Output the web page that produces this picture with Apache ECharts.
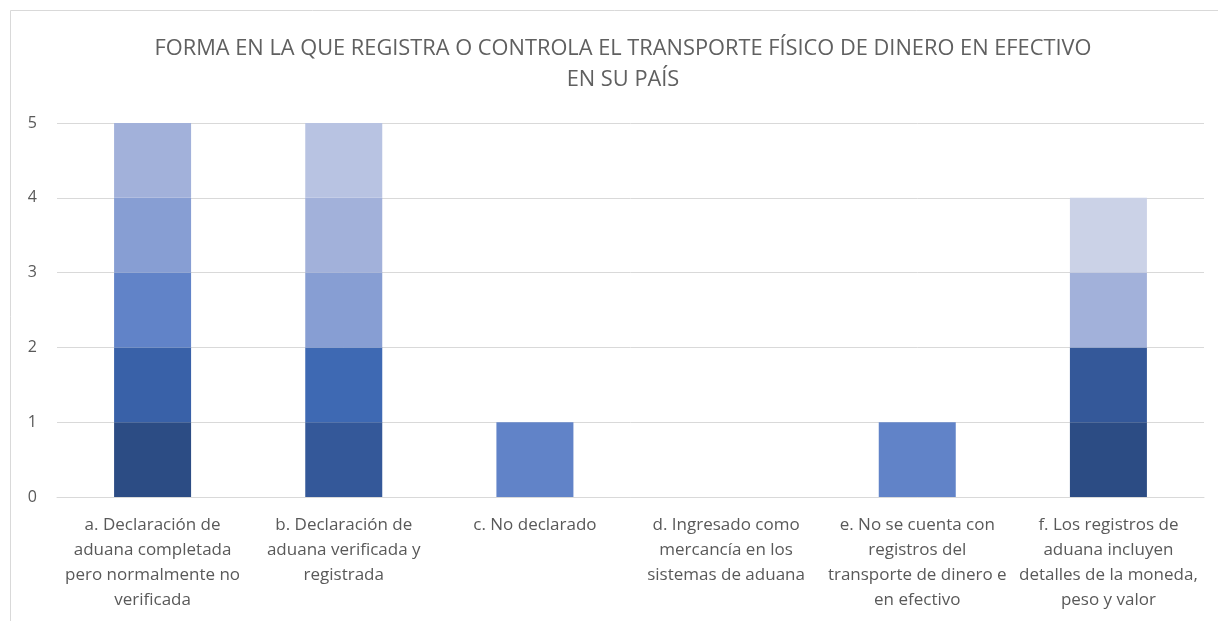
<!DOCTYPE html>
<html>
<head>
<meta charset="utf-8">
<script src="https://cdn.jsdelivr.net/npm/echarts@6/dist/echarts.min.js"></script>
<style>
    html, body { margin: 0; padding: 0; background: #fff; }
    #chart { width: 1218px; height: 621px; }
</style>
</head>
<body>
<div id="chart"></div>
<script>
// categorías del eje X
const categories = [
    "a. Declaración de\naduana completada\npero normalmente no\nverificada",
    "b. Declaración de\naduana verificada y\nregistrada",
    "c. No declarado",
    "d. Ingresado como\nmercancía en los\nsistemas de aduana",
    "e. No se cuenta con\nregistros del\ntransporte de dinero e\nen efectivo",
    "f. Los registros de\naduana incluyen\ndetalles de la moneda,\npeso y valor"
];

// una serie por respuesta, apiladas de abajo hacia arriba
const s1 = [1, null, null, null, null, 1];
const s2 = [null, 1, null, null, null, 1];
const s3 = [1, null, null, null, null, null];
const s4 = [null, 1, null, null, null, null];
const s5 = [1, null, 1, null, 1, null];
const s6 = [1, 1, null, null, null, null];
const s7 = [1, 1, null, null, null, 1];
const s8 = [null, 1, null, null, null, null];
const s9 = [null, null, null, null, null, 1];

const yTicks = [0, 1, 2, 3, 4, 5];

const seriesValues = [s1, s2, s3, s4, s5, s6, s7, s8, s9];
const colors = ["#2c4c84", "#345899", "#3961a8", "#3e69b3", "#6183c8",
                "#879ed3", "#a2b1da", "#b8c3e2", "#cbd2e7"];

const myChart = echarts.init(document.getElementById("chart"));

const textColor = "#595959";
const fontFamily = "'Open Sans', 'Noto Sans', sans-serif";

const option = {
    backgroundColor: "#fff",
    animation: false,
    title: {
        text: "FORMA EN LA QUE REGISTRA O CONTROLA EL TRANSPORTE FÍSICO DE DINERO EN EFECTIVO\nEN SU PAÍS",
        left: 618,
        textAlign: "center",
        top: 28,
        textStyle: {
            color: "#606060",
            fontFamily: fontFamily,
            fontSize: 21.8,
            fontWeight: "normal",
            lineHeight: 31,
        },
    },
    graphic: [
        {
            type: "rect",
            shape: { x: 10.5, y: 10.5, width: 1400, height: 800 },
            style: { fill: "none", stroke: "#d9d9d9", lineWidth: 1 },
            silent: true,
        },
    ],
    grid: {
        left: 57,
        right: 14,
        top: 123,
        bottom: 124,
    },
    xAxis: {
        type: "category",
        data: categories,
        axisLine: { lineStyle: { color: "#d9d9d9", width: 1 } },
        axisTick: { show: false },
        axisLabel: {
            color: textColor,
            fontFamily: fontFamily,
            fontSize: 17,
            lineHeight: 25,
            margin: 16,
            interval: 0,
        },
    },
    yAxis: {
        type: "value",
        min: yTicks[0],
        max: yTicks[yTicks.length - 1],
        interval: 1,
        axisLine: { show: false },
        axisTick: { show: false },
        splitLine: { lineStyle: { color: "#d9d9d9", width: 1 } },
        axisLabel: {
            color: textColor,
            fontFamily: fontFamily,
            fontSize: 16,
            margin: 20,
        },
    },
    series: seriesValues.map((vals, i) => {
        return {
            type: "bar",
            name: "Serie " + (i + 1),
            stack: "total",
            barWidth: 77,
            itemStyle: { color: colors[i] },
            data: vals,
        };
    }),
};

myChart.setOption(option);
</script>
</body>
</html>
